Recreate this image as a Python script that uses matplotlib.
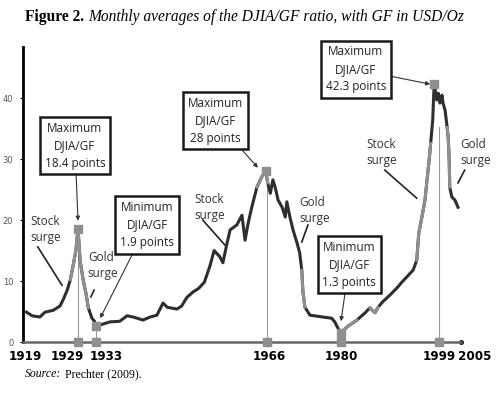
import matplotlib.pyplot as plt
import matplotlib.transforms as mtransforms
import numpy as np

# DJIA/GF ratio (year, ratio)
years = [1919.0, 1920.1, 1921.6, 1922.6, 1924.2, 1925.5, 1926.1, 1926.9, 1927.5, 1928.0,
         1928.6, 1929.0, 1929.4, 1930.0, 1930.6, 1931.0, 1931.7, 1932.2, 1932.5, 1933.3,
         1935.2, 1937.1, 1938.5, 1939.7, 1941.6, 1943.0, 1944.3, 1945.5, 1946.3, 1948.2,
         1949.1, 1950.1, 1951.3, 1952.4, 1953.5, 1954.6, 1955.4, 1956.5, 1957.1, 1957.9,
         1958.5, 1959.8, 1960.8, 1961.4, 1962.0, 1962.7, 1963.7, 1964.7, 1965.4, 1965.8,
         1966.3, 1966.8, 1967.3, 1967.8, 1968.6, 1969.2, 1969.5, 1970.1, 1970.7, 1971.5,
         1972.0, 1972.4, 1972.6, 1973.0, 1974.0, 1976.5, 1978.2, 1978.8, 1979.4, 1980.0,
         1981.2, 1983.1, 1984.7, 1985.6, 1986.6, 1987.2, 1988.1, 1989.5, 1990.9, 1991.8,
         1992.8, 1994.0, 1994.7, 1995.1, 1995.7, 1996.3, 1996.7, 1997.1, 1997.4, 1997.8,
         1998.0, 1998.1, 1998.6, 1998.9, 1999.2, 1999.6, 1999.8, 2000.2, 2000.6, 2000.8,
         2001.0, 2001.1, 2001.5, 2002.1, 2002.7]
ratio = [4.9, 4.3, 4.1, 4.9, 5.2, 5.9, 6.9, 8.5, 10.2, 12.3,
         15.1, 18.6, 13.4, 10.2, 7.7, 5.6, 3.9, 3.4, 2.6, 2.8,
         3.3, 3.4, 4.3, 4.1, 3.6, 4.1, 4.4, 6.4, 5.7, 5.4,
         5.9, 7.3, 8.2, 8.8, 9.8, 12.5, 15.0, 14.0, 13.0, 16.2,
         18.4, 19.2, 20.8, 16.7, 19.5, 22.1, 25.4, 27.2, 28.0, 26.1,
         24.4, 26.6, 25.2, 23.3, 22.1, 20.5, 23.0, 20.5, 18.4, 16.2,
         14.6, 11.8, 8.5, 5.7, 4.4, 4.1, 3.9, 3.3, 2.3, 1.5,
         2.5, 3.6, 4.8, 5.6, 4.8, 5.7, 6.6, 7.7, 8.9, 9.8,
         10.7, 11.8, 13.4, 17.9, 20.5, 23.3, 26.6, 29.8, 32.6, 36.4,
         40.8, 42.3, 39.7, 40.8, 39.2, 40.5, 39.2, 38.0, 35.2, 33.6,
         29.8, 25.4, 23.8, 23.3, 22.1]

# highlighted extremes
extremes_x = [1929.0, 1932.5, 1965.4, 1980.0, 1998.1]
extremes_y = [18.6, 2.6, 28.0, 1.5, 42.3]
drop_x = [1929.0, 1932.5, 1965.7, 1980.0, 1999.0]
drop_top = [18.6, 2.6, 27.0, 1.5, 35.2]
box_texts = ["Maximum\nDJIA/GF\n18.4 points", "Minimum\nDJIA/GF\n1.9 points",
             "Maximum\nDJIA/GF\n28 points", "Minimum\nDJIA/GF\n1.3 points",
             "Maximum\nDJIA/GF\n42.3 points"]
tick_years = [1919, 1929, 1933, 1966, 1980, 1999, 2005]

fig = plt.figure(figsize=(4.98, 4.05), dpi=100)
ax = fig.add_axes([23 / 498, 63 / 405, 452 / 498, 295 / 405])

yrs = np.array(years)
vals = np.array(ratio)
ax.plot(yrs, vals, color="#2e2e2e", lw=2.2, solid_joinstyle="round", zorder=3)
# lighter grey stretches of the scanned line
for lo, hi in [(1920.5, 1922.5), (1927.5, 1931.5), (1932.3, 1933.0), (1963.5, 1966.2),
               (1972.3, 1973.2), (1980.0, 1983.5), (1985.5, 1987.5), (1994.5, 1997.5),
               (2000.3, 2001.2)]:
    m = (yrs >= lo) & (yrs <= hi)
    ax.plot(yrs[m], vals[m], color="#8f8f8f", lw=2.2, solid_capstyle="round", zorder=4)

for x, top in zip(drop_x, drop_top):
    ax.plot([x, x], [0, top], color="#9a9a9a", lw=0.8, zorder=2)
    ax.plot(x, 0, "s", color="#8f8f8f", ms=5.5, zorder=5, clip_on=False)
ax.plot(extremes_x, extremes_y, "s", color="#8f8f8f", ms=6, zorder=5)

ax.set_xlim(1918.33, 2006.0)
ax.set_ylim(0, 48.4)
ax.spines["top"].set_visible(False)
ax.spines["right"].set_visible(False)
ax.spines["left"].set_linewidth(2.0)
ax.spines["bottom"].set_linewidth(1.8)
ax.spines["bottom"].set_color("#666666")
ax.spines["bottom"].set_bounds(1918.33, 2003.3)
ax.plot(2003.3, 0, "o", color="black", ms=2.5, clip_on=False)

ax.set_yticks([0, 10, 20, 30, 40])
ax.tick_params(axis="y", length=2, pad=5, labelsize=6, labelcolor="#555555")
ax.set_xticks(tick_years)
ax.set_xticklabels([str(y) for y in tick_years], fontsize=9.5, fontweight="bold",
                   family="DejaVu Sans", fontstretch="condensed")
ax.tick_params(axis="x", length=0, pad=6)
lbls = ax.get_xticklabels()
shifts = [-1, -11, 8, 0, 0, 0, 5]
for lb, s in zip(lbls, shifts):
    lb.set_transform(lb.get_transform() + mtransforms.ScaledTranslation(s / 100, 0, fig.dpi_scale_trans))

box_font = ["Open Sans", "DejaVu Sans"]
box_pos = [(1928.4, 32.2), (1942.4, 19.2), (1955.7, 36.3), (1981.6, 12.7), (1982.9, 44.75)]
box_tgt = [(1929.0, 19.9), (1933.3, 3.9), (1963.9, 28.6), (1980.0, 3.4), (1997.3, 42.3)]
for txt, pos, tgt in zip(box_texts, box_pos, box_tgt):
    ax.annotate(txt, xy=tgt, xytext=pos, ha="center", va="center",
                fontsize=8.5, family=box_font, linespacing=1.45, color="#222222",
                bbox=dict(boxstyle="square,pad=0.4", fc="white", ec="#1a1a1a", lw=1.8),
                arrowprops=dict(arrowstyle="-|>", color="#333333", lw=0.8,
                                mutation_scale=6, shrinkA=0, shrinkB=0),
                zorder=6, annotation_clip=False)

surge_pos = [(1919.7, 18.4, "Stock\nsurge"), (1930.9, 12.5, "Gold\nsurge"),
             (1951.5, 22.1, "Stock\nsurge"), (1972.0, 21.6, "Gold\nsurge"),
             (1985.0, 31.1, "Stock\nsurge"), (2003.1, 31.1, "Gold\nsurge")]
surge_lines = [((1921.2, 15.6), (1925.9, 9.3)), ((1932.1, 8.5), (1931.5, 7.4)),
               ((1953.2, 20.0), (1957.5, 15.9)), ((1973.6, 19.2), (1972.4, 16.4)),
               ((1988.5, 28.2), (1994.7, 23.6)), ((2004.0, 28.2), (2002.7, 26.1))]
for (x, y, t), (p0, p1) in zip(surge_pos, surge_lines):
    ax.text(x, y, t, ha="left", va="center", fontsize=8.5, family=box_font,
            linespacing=1.3, color="#333333", clip_on=False)
    ax.plot([p0[0], p1[0]], [p0[1], p1[1]], color="#222222", lw=1.2, clip_on=False)

serif = ["Liberation Serif", "DejaVu Serif"]
t1 = fig.text(25 / 498, 1 - 21 / 405, "Figure 2.", fontsize=11.2, fontweight="bold",
              family=serif, va="baseline")
ax.annotate("Monthly averages of the DJIA/GF ratio, with GF in USD/Oz", xy=(1, 0),
            xycoords=t1, xytext=(3, 0), textcoords="offset points", va="bottom",
            fontsize=11.2, fontstyle="italic", family=serif, annotation_clip=False)
t2 = fig.text(25 / 498, 1 - 377 / 405, "Source:", fontsize=8.5, fontstyle="italic",
              family=serif, va="baseline")
ax.annotate("Prechter (2009).", xy=(1, 0), xycoords=t2, xytext=(3, 0),
            textcoords="offset points", va="bottom", fontsize=8.5,
            family=serif, annotation_clip=False)

fig.savefig("out.png", dpi=100)
